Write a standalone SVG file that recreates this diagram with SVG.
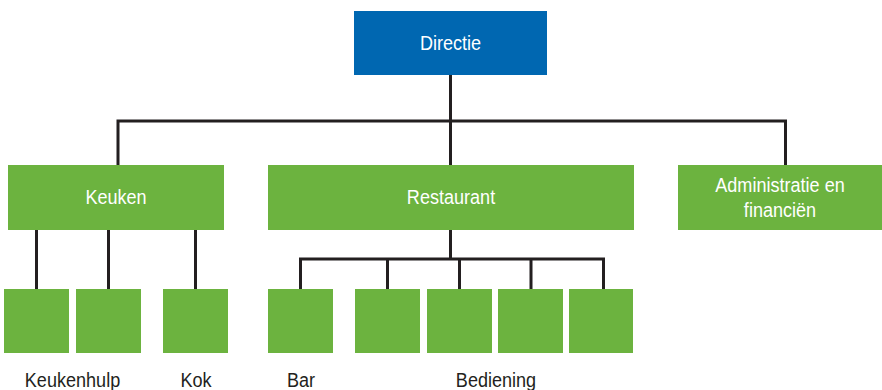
<svg xmlns="http://www.w3.org/2000/svg" width="882" height="390" viewBox="0 0 882 390">
  <style>
    .top { fill: #0067b1; }
    .box { fill: #6cb33f; }
    .lbl { font-family: "Liberation Sans", Arial, sans-serif; font-size: 21px; text-anchor: middle; }
    .in { fill: #ffffff; }
    .out { fill: #231f20; }
    .wire { stroke: #231f20; stroke-width: 3; fill: none; }
  </style>
  <rect width="882" height="390" fill="#ffffff"/>

  <!-- connectors -->
  <g id="connectors">
    <path class="wire" d="M450.5 75 V165 M118 121 H785.5 M118 119.5 V165 M785.5 119.5 V165"/>
    <path class="wire" d="M36.5 230 V289 M108.5 230 V289 M195.5 230 V289"/>
    <path class="wire" d="M450.5 230 V259 M300.5 259 H603.5 M300.5 257.5 V289 M387.5 259 V289 M459.5 259 V289 M531 259 V289 M603.5 257.5 V289"/>
  </g>

  <!-- labels are drawn condensed: horizontal scale 0.86 -->
  <g id="directie">
    <rect class="top" x="354" y="11" width="193" height="64"/>
    <text class="lbl in" transform="translate(450.5 50) scale(0.86 1)">Directie</text>
  </g>

  <g id="keuken">
    <rect class="box" x="8" y="165" width="216" height="65"/>
    <text class="lbl in" transform="translate(116 204) scale(0.86 1)">Keuken</text>
  </g>
  <g id="restaurant">
    <rect class="box" x="268" y="165" width="366" height="65"/>
    <text class="lbl in" transform="translate(451 204) scale(0.86 1)">Restaurant</text>
  </g>
  <g id="administratie">
    <rect class="box" x="678" y="165" width="204" height="65"/>
    <text class="lbl in" transform="translate(780 192) scale(0.86 1)">Administratie en</text>
    <text class="lbl in" transform="translate(780 217) scale(0.86 1)">financiën</text>
  </g>

  <g id="keukenhulp-1"><rect class="box" x="4" y="289" width="65" height="64"/></g>
  <g id="keukenhulp-2"><rect class="box" x="76" y="289" width="65" height="64"/></g>
  <g id="kok"><rect class="box" x="163" y="289" width="65" height="64"/></g>
  <g id="bar"><rect class="box" x="268" y="289" width="65" height="64"/></g>
  <g id="bediening-1"><rect class="box" x="355" y="289" width="65" height="64"/></g>
  <g id="bediening-2"><rect class="box" x="427" y="289" width="65" height="64"/></g>
  <g id="bediening-3"><rect class="box" x="498" y="289" width="65" height="64"/></g>
  <g id="bediening-4"><rect class="box" x="569" y="289" width="64" height="64"/></g>

  <g id="labels">
    <text class="lbl out" transform="translate(72.5 387) scale(0.86 1)">Keukenhulp</text>
    <text class="lbl out" transform="translate(196 387) scale(0.86 1)">Kok</text>
    <text class="lbl out" transform="translate(301 387) scale(0.86 1)">Bar</text>
    <text class="lbl out" transform="translate(496 387) scale(0.86 1)">Bediening</text>
  </g>
</svg>
